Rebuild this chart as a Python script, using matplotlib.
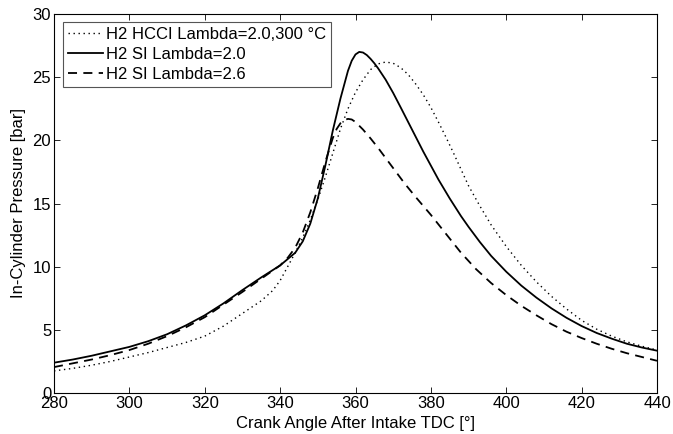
import matplotlib
matplotlib.use("Agg")
import matplotlib.pyplot as plt

plt.rcParams['font.family'] = ['Liberation Sans', 'DejaVu Sans']

# HCCI, lambda=2.0, 300 C (dotted)
hcci_deg = [280, 285, 290, 295, 300, 305, 310, 315, 320, 325, 330, 335, 338, 340, 342, 344,
            346, 348, 350, 352, 354, 356, 358, 360, 362, 364, 366, 368, 370, 372, 374, 376,
            378, 380, 382, 384, 386, 388, 390, 393, 396, 400, 404, 408, 412, 416, 420, 424,
            428, 432, 436, 440]
hcci_p = [1.75, 1.95, 2.2, 2.5, 2.85, 3.2, 3.6, 4.0, 4.5, 5.3, 6.3, 7.3, 8.1, 8.9, 10.0, 11.1,
          12.3, 13.7, 15.3, 17.1, 19.0, 20.9, 22.5, 23.8, 24.8, 25.6, 26.05, 26.2, 26.1, 25.75, 25.2, 24.45,
          23.6, 22.6, 21.45, 20.25, 19.0, 17.7, 16.4, 14.8, 13.3, 11.6, 10.1, 8.8, 7.65, 6.65, 5.75, 5.05,
          4.5, 4.05, 3.7, 3.4]

# SI, lambda=2.0 (solid)
si20_deg = [280, 285, 290, 295, 300, 305, 310, 315, 320, 325, 330, 335, 340, 342, 344, 346,
            348, 350, 352, 354, 356, 358, 359, 360, 361, 362, 363, 364, 365, 366, 368, 370,
            372, 375, 378, 380, 382, 385, 388, 390, 393, 396, 400, 404, 408, 412, 416, 420,
            424, 428, 432, 436, 440]
si20_p = [2.4, 2.65, 2.95, 3.3, 3.65, 4.1, 4.65, 5.35, 6.15, 7.1, 8.15, 9.15, 10.1, 10.6, 11.1, 12.0,
          13.4, 15.4, 18.0, 20.8, 23.3, 25.5, 26.3, 26.8, 27.0, 26.95, 26.75, 26.45, 26.1, 25.7, 24.8, 23.75,
          22.6, 20.85, 19.1, 18.0, 16.9, 15.4, 14.0, 13.15, 11.95, 10.85, 9.6, 8.5, 7.55, 6.7, 5.95, 5.3,
          4.75, 4.3, 3.9, 3.6, 3.35]

# SI, lambda=2.6 (dashed)
si26_deg = [280, 285, 290, 295, 300, 305, 310, 315, 320, 325, 330, 335, 340, 342, 344, 346,
            348, 350, 352, 354, 355, 356, 357, 358, 359, 360, 362, 364, 366, 368, 370, 373,
            376, 380, 384, 388, 392, 396, 400, 404, 408, 412, 416, 420, 424, 428, 432, 436,
            440]
si26_p = [2.05, 2.35, 2.65, 3.0, 3.4, 3.9, 4.5, 5.2, 6.0, 7.0, 8.0, 9.05, 10.1, 10.7, 11.5, 12.7,
          14.3, 16.2, 18.3, 20.2, 20.9, 21.35, 21.6, 21.7, 21.65, 21.45, 20.85, 20.15, 19.4, 18.6, 17.8, 16.6,
          15.5, 14.1, 12.6, 11.1, 9.8, 8.7, 7.75, 6.9, 6.15, 5.45, 4.85, 4.35, 3.9, 3.5, 3.15, 2.85,
          2.55]

labels = ['H2 HCCI Lambda=2.0,300 \u00b0C', 'H2 SI Lambda=2.0', 'H2 SI Lambda=2.6']
x_ticks = [280, 300, 320, 340, 360, 380, 400, 420, 440]
y_ticks = [0, 5, 10, 15, 20, 25, 30]

FS = 12

fig = plt.figure(figsize=(6.73, 4.34), dpi=100)
ax = fig.add_axes([54/673, 41/434, 603/673, 379/434])

ax.plot(hcci_deg, hcci_p, color='black', linestyle=(0, (1, 2.6)), linewidth=1.0, label=labels[0])
ax.plot(si20_deg, si20_p, color='black', linestyle='-', linewidth=1.3, label=labels[1])
ax.plot(si26_deg, si26_p, color='black', linestyle=(0, (5, 3.5)), linewidth=1.3, label=labels[2])

ax.set_xlim(280, 440)
ax.set_ylim(0, 30)
ax.set_xticks(x_ticks)
ax.set_yticks(y_ticks)
ax.tick_params(direction='in', top=True, right=True, length=4, width=0.6, labelsize=FS, pad=2)
for s in ax.spines.values():
    s.set_linewidth(0.8)

ax.set_xlabel('Crank Angle After Intake TDC [\u00b0]', fontsize=FS, labelpad=4)
ax.set_ylabel('In-Cylinder Pressure [bar]', fontsize=FS, labelpad=5)

leg = ax.legend(loc='upper left', bbox_to_anchor=(9/603, 1 - 8/379), fontsize=FS,
                frameon=True, fancybox=False, edgecolor='#555555', framealpha=1,
                handlelength=2.1, handletextpad=0.2, borderpad=0.3, labelspacing=0.3,
                borderaxespad=0)
leg.get_frame().set_linewidth(0.8)

fig.savefig('out.png', dpi=100)
